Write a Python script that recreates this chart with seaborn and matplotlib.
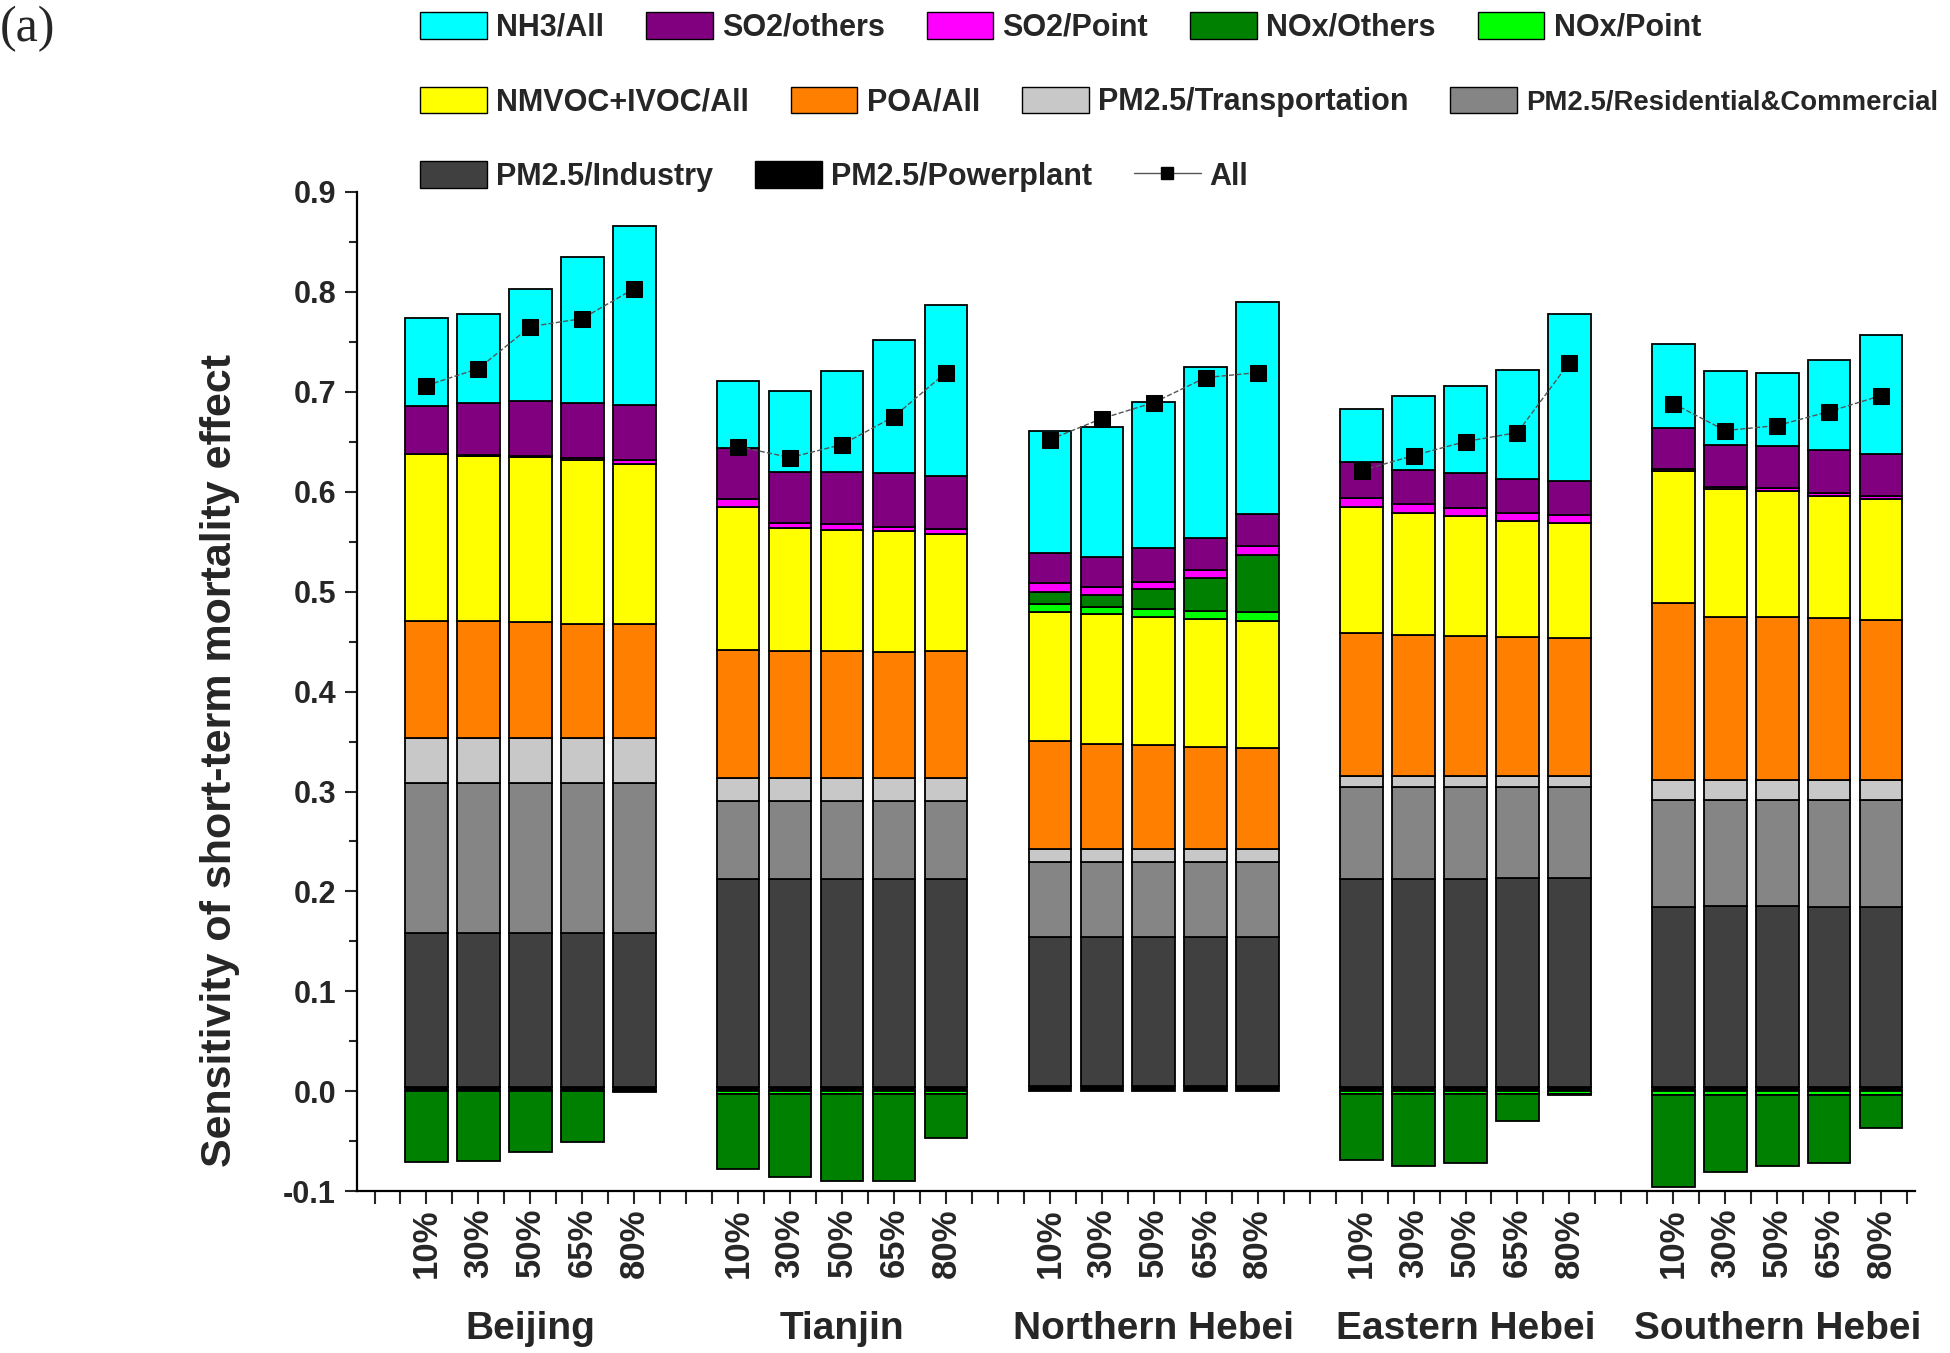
import numpy as np
import pandas as pd
import matplotlib
matplotlib.use('Agg')
import matplotlib.pyplot as plt
from matplotlib.patches import Patch
from matplotlib.lines import Line2D
from matplotlib.transforms import blended_transform_factory
from matplotlib.ticker import MultipleLocator, FixedLocator
import seaborn as sns

# ── data ────────────────────────────────────────────────
regions = ["Beijing", "Tianjin", "Northern Hebei", "Eastern Hebei", "Southern Hebei"]
scenarios = ["10%", "30%", "50%", "65%", "80%"]

# each list: 5 regions x 5 scenarios
pm_powerplant = [0.004, 0.004, 0.004, 0.004, 0.004,
                 0.004, 0.004, 0.004, 0.004, 0.004,
                 0.005, 0.005, 0.005, 0.005, 0.005,
                 0.004, 0.004, 0.004, 0.004, 0.004,
                 0.004, 0.004, 0.004, 0.004, 0.004]
pm_industry = [0.154, 0.154, 0.154, 0.154, 0.154,
               0.208, 0.208, 0.208, 0.208, 0.208,
               0.149, 0.149, 0.149, 0.149, 0.149,
               0.208, 0.208, 0.208, 0.209, 0.209,
               0.180, 0.181, 0.181, 0.180, 0.180]
pm_residential = [0.151, 0.151, 0.151, 0.151, 0.151,
                  0.079, 0.079, 0.079, 0.079, 0.079,
                  0.075, 0.075, 0.075, 0.075, 0.075,
                  0.093, 0.093, 0.093, 0.092, 0.092,
                  0.108, 0.107, 0.107, 0.108, 0.108]
pm_transport = [0.045, 0.045, 0.045, 0.045, 0.045,
                0.023, 0.023, 0.023, 0.023, 0.023,
                0.013, 0.013, 0.013, 0.013, 0.013,
                0.011, 0.011, 0.011, 0.011, 0.011,
                0.020, 0.020, 0.020, 0.020, 0.020]
poa = [0.117, 0.117, 0.116, 0.114, 0.114,
       0.128, 0.127, 0.127, 0.126, 0.127,
       0.109, 0.106, 0.105, 0.103, 0.102,
       0.143, 0.141, 0.140, 0.139, 0.138,
       0.177, 0.163, 0.163, 0.162, 0.160]
nmvoc = [0.167, 0.165, 0.165, 0.164, 0.160,
         0.143, 0.123, 0.121, 0.121, 0.117,
         0.129, 0.130, 0.128, 0.128, 0.127,
         0.126, 0.122, 0.120, 0.116, 0.115,
         0.132, 0.128, 0.126, 0.122, 0.121]
nox_point = [0.000, 0.000, 0.000, 0.000, 0.000,
             -0.003, -0.003, -0.003, -0.003, -0.003,
             0.008, 0.007, 0.008, 0.008, 0.009,
             -0.003, -0.003, -0.003, -0.003, -0.003,
             -0.004, -0.004, -0.004, -0.004, -0.004]
nox_others = [-0.071, -0.070, -0.061, -0.051, -0.001,
              -0.075, -0.083, -0.087, -0.087, -0.044,
              0.012, 0.012, 0.020, 0.033, 0.057,
              -0.066, -0.072, -0.069, -0.027, -0.001,
              -0.092, -0.077, -0.071, -0.068, -0.033]
so2_point = [0.000, 0.001, 0.001, 0.002, 0.004,
             0.008, 0.005, 0.006, 0.004, 0.005,
             0.009, 0.008, 0.007, 0.008, 0.009,
             0.009, 0.009, 0.008, 0.008, 0.008,
             0.002, 0.002, 0.003, 0.003, 0.003]
so2_others = [0.048, 0.052, 0.055, 0.055, 0.055,
              0.051, 0.051, 0.052, 0.054, 0.053,
              0.030, 0.030, 0.034, 0.032, 0.032,
              0.036, 0.034, 0.035, 0.034, 0.034,
              0.041, 0.042, 0.042, 0.043, 0.042]
nh3 = [0.088, 0.089, 0.112, 0.146, 0.179,
       0.067, 0.081, 0.101, 0.133, 0.171,
       0.122, 0.130, 0.146, 0.171, 0.212,
       0.053, 0.074, 0.087, 0.109, 0.167,
       0.084, 0.074, 0.073, 0.090, 0.119]
all_sources = [0.706, 0.723, 0.765, 0.773, 0.803,
               0.645, 0.634, 0.647, 0.675, 0.719,
               0.652, 0.673, 0.689, 0.714, 0.719,
               0.621, 0.636, 0.650, 0.659, 0.729,
               0.688, 0.661, 0.666, 0.680, 0.696]

# stacking order bottom -> top : (label, values, colour)
layers = [
    ("PM2.5/Powerplant", pm_powerplant, "#000000"),
    ("PM2.5/Industry", pm_industry, "#404040"),
    ("PM2.5/Residential&Commercial", pm_residential, "#858585"),
    ("PM2.5/Transportation", pm_transport, "#C8C8C8"),
    ("POA/All", poa, "#FF8000"),
    ("NMVOC+IVOC/All", nmvoc, "#FFFF00"),
    ("NOx/Point", nox_point, "#00FF00"),
    ("NOx/Others", nox_others, "#008000"),
    ("SO2/Point", so2_point, "#FF00FF"),
    ("SO2/others", so2_others, "#800080"),
    ("NH3/All", nh3, "#00FFFF"),
]
colors = {name: c for name, _, c in layers}

# ── figure ──────────────────────────────────────────────
sns.set_style("ticks")
plt.rcParams['font.family'] = ['Liberation Sans', 'DejaVu Sans']
plt.rcParams['font.weight'] = 'bold'

fig = plt.figure(figsize=(19.5, 13.53), dpi=100)
ax = fig.add_axes([0.183, 0.1194, 0.799, 0.739])

n_sc = len(scenarios)
group_idx = np.repeat(np.arange(len(regions)), n_sc)
sc_idx = np.tile(np.arange(n_sc), len(regions))
xpos = group_idx * 6 + sc_idx

pos_base = np.zeros(len(xpos))
neg_base = np.zeros(len(xpos))
for name, vals, col in layers:
    v = np.array(vals)
    bottom = np.where(v >= 0, pos_base, neg_base)
    ax.bar(xpos, v, bottom=bottom, width=0.82, color=col,
           edgecolor='black', linewidth=1.3, zorder=2)
    pos_base = pos_base + np.where(v >= 0, v, 0)
    neg_base = neg_base + np.where(v < 0, v, 0)

df_all = pd.DataFrame({
    "x": xpos,
    "all": all_sources,
    "region": np.repeat(regions, n_sc),
})
sns.lineplot(data=df_all, x="x", y="all", units="region", estimator=None,
             color="#555555", linewidth=1.0, linestyle='--', marker='s',
             markersize=11, markerfacecolor='black', markeredgecolor='black',
             ax=ax, zorder=4, legend=False)

# ── axes styling ────────────────────────────────────────
ax.set_xlim(-1.34, 28.65)
ax.set_ylim(-0.1, 0.9)
sns.despine(ax=ax)
for s in ("left", "bottom"):
    ax.spines[s].set_linewidth(1.6)
    ax.spines[s].set_color('black')

ax.yaxis.set_major_locator(MultipleLocator(0.1))
ax.yaxis.set_minor_locator(MultipleLocator(0.05))
ax.yaxis.set_major_formatter(matplotlib.ticker.FormatStrFormatter('%.1f'))
ax.tick_params(axis='y', which='major', direction='out', length=9, width=1.5,
               labelsize=22, pad=6)
ax.tick_params(axis='y', which='minor', direction='out', length=6, width=1.5)

ax.set_xticks(xpos)
ax.set_xticklabels(np.tile(scenarios, len(regions)), rotation=90,
                   fontsize=25, fontweight='bold')
minor_x = [t for t in np.arange(-1.0, 28.6, 0.5) if t not in set(xpos)]
ax.xaxis.set_minor_locator(FixedLocator(minor_x))
ax.tick_params(axis='x', which='both', direction='out', length=9, width=1.5, pad=3)
ax.set_xlabel("")

ax.set_ylabel("Sensitivity of short-term mortality effect", fontsize=31,
              fontweight='bold', va='center')
ax.yaxis.set_label_coords(-0.088, 0.431)

trans = blended_transform_factory(ax.transData, fig.transFigure)
for g, reg in enumerate(regions):
    ax.text(g * 6 + 2, 0.018, reg, transform=trans, ha='center', va='center',
            fontsize=28, fontweight='bold')

fig.text(0.0, 0.979, "(a)", fontsize=36, family=['Liberation Serif'],
         fontweight='normal', va='center', ha='left')

# ── legend, three flowing rows ──────────────────────────
def patch(name):
    return Patch(facecolor=colors[name], edgecolor='black', linewidth=1.0, label=name)

rows = [
    [patch("NH3/All"), patch("SO2/others"), patch("SO2/Point"),
     patch("NOx/Others"), patch("NOx/Point")],
    [patch("NMVOC+IVOC/All"), patch("POA/All"), patch("PM2.5/Transportation"),
     patch("PM2.5/Residential&Commercial")],
    [patch("PM2.5/Industry"), patch("PM2.5/Powerplant"),
     Line2D([0], [0], color='#555555', lw=1.0, marker='s', markersize=8,
            markerfacecolor='black', markeredgecolor='black', label='All')],
]
row_y = [0.9797, 0.9246, 0.8695]
for handles, y in zip(rows, row_y):
    leg = fig.legend(handles=handles, loc='center left', bbox_to_anchor=(0.2154, y),
                     ncol=len(handles), frameon=False, borderpad=0, borderaxespad=0,
                     handlelength=2.18, handleheight=0.98, handletextpad=0.3,
                     columnspacing=1.38, prop={'size': 22, 'weight': 'bold'})
    for t in leg.get_texts():
        if t.get_text() == "PM2.5/Residential&Commercial":
            t.set_fontsize(19.8)

fig.savefig("out.png", dpi=100)
plt.close(fig)
